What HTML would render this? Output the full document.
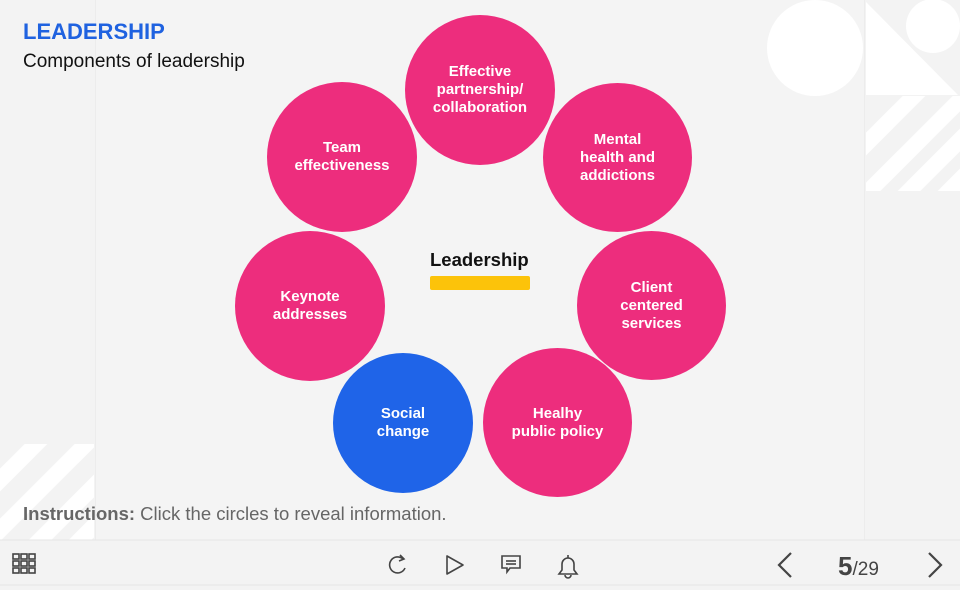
<!DOCTYPE html>
<html><head><meta charset="utf-8"><style>
*{margin:0;padding:0;box-sizing:border-box}
body{width:960px;height:590px;overflow:hidden;background:#f3f3f3;font-family:"Liberation Sans",Arial,sans-serif;position:relative}
.c{position:absolute;border-radius:50%;background:#ed2d7d;color:#fff;font-weight:bold;font-size:15px;line-height:18px;display:flex;align-items:center;justify-content:center;text-align:center}
.abs{position:absolute}
</style></head><body>
<div class="abs" style="left:95px;top:0;width:770px;height:540px;background:#f4f4f4;border-left:1px solid #ececec;border-right:1px solid #ececec"></div>
<svg class="abs" style="left:0;top:0" width="960" height="590">
<circle cx="815" cy="48" r="48" fill="#fff"/>
<circle cx="933" cy="26" r="27" fill="#fff"/>
<polygon points="866,2 866,95 958,95" fill="#fff"/>
<g clip-path="url(#cp1)"><defs><clipPath id="cp1"><rect x="866" y="96" width="94" height="95"/></clipPath><clipPath id="cp2"><rect x="0" y="444" width="94" height="96"/></clipPath></defs>
<g stroke="#fff" stroke-width="16"><line x1="850" y1="160" x2="930" y2="80"/><line x1="850" y1="210" x2="970" y2="90"/><line x1="890" y1="210" x2="990" y2="110"/><line x1="930" y1="210" x2="1000" y2="140"/></g></g>
<g clip-path="url(#cp2)"><g stroke="#fff" stroke-width="16"><line x1="-20" y1="500" x2="60" y2="420"/><line x1="-20" y1="550" x2="100" y2="430"/><line x1="20" y1="560" x2="120" y2="460"/><line x1="60" y1="560" x2="130" y2="490"/></g></g>
<line x1="0" y1="540" x2="960" y2="540" stroke="#e6e6e6"/>
<line x1="0" y1="585" x2="960" y2="585" stroke="#e6e6e6"/>
<g fill="none" stroke="#444" stroke-width="1.6">
<rect x="13" y="554" width="6" height="5"/><rect x="21" y="554" width="6" height="5"/><rect x="29" y="554" width="6" height="5"/>
<rect x="13" y="561" width="6" height="5"/><rect x="21" y="561" width="6" height="5"/><rect x="29" y="561" width="6" height="5"/>
<rect x="13" y="568" width="6" height="5"/><rect x="21" y="568" width="6" height="5"/><rect x="29" y="568" width="6" height="5"/>
<path d="M403,559 A8,8 0 1 0 405,568"/><path d="M400,555 L404,559 L399,561"/>
<polygon points="447,556 447,574 463,565" stroke-linejoin="round"/>
<path d="M502,556 h18 v12 h-10 l-3,4 v-4 h-5 z"/><line x1="506" y1="561" x2="516" y2="561"/><line x1="506" y1="564" x2="516" y2="564"/>
<path d="M559,574 h18 l-3,-4 v-6 a6,6 0 0 0 -12,0 v6 z"/><line x1="568" y1="555" x2="568" y2="558"/><path d="M565,575 a3,3 0 0 0 6,0"/>
<path d="M791,553 l-12,12 l12,12" stroke-width="2.2"/>
<path d="M929,553 l12,12 l-12,12" stroke-width="2.2"/>
</g>
</svg>
<div class="abs" style="left:23px;top:19px;color:#1f62e0;font-weight:bold;font-size:22px">LEADERSHIP</div>
<div class="abs" style="left:23px;top:51px;color:#111;font-size:19px">Components of leadership</div>
<div class="c" style="left:405px;top:15px;width:150px;height:150px">Effective<br>partnership/<br>collaboration</div>
<div class="c" style="left:543px;top:83px;width:149px;height:149px">Mental<br>health and<br>addictions</div>
<div class="c" style="left:577px;top:231px;width:149px;height:149px">Client<br>centered<br>services</div>
<div class="c" style="left:483px;top:348px;width:149px;height:149px">Healhy<br>public policy</div>
<div class="c" style="left:333px;top:353px;width:140px;height:140px;background:#1f64e8">Social<br>change</div>
<div class="c" style="left:235px;top:231px;width:150px;height:150px">Keynote<br>addresses</div>
<div class="c" style="left:267px;top:82px;width:150px;height:150px">Team<br>effectiveness</div>
<div class="abs" style="left:430px;top:249px;font-weight:bold;font-size:18.5px;color:#111">Leadership</div>
<div class="abs" style="left:430px;top:276px;width:100px;height:14px;background:#fcc30a;border-radius:2px"></div>
<div class="abs" style="left:23px;top:503px;font-size:18.5px;color:#666"><b>Instructions:</b> Click the circles to reveal information.</div>
<div class="abs" style="left:838px;top:551px;color:#444"><span style="font-size:26px;font-weight:bold">5</span><span style="font-size:19px">/29</span></div>
</body></html>
